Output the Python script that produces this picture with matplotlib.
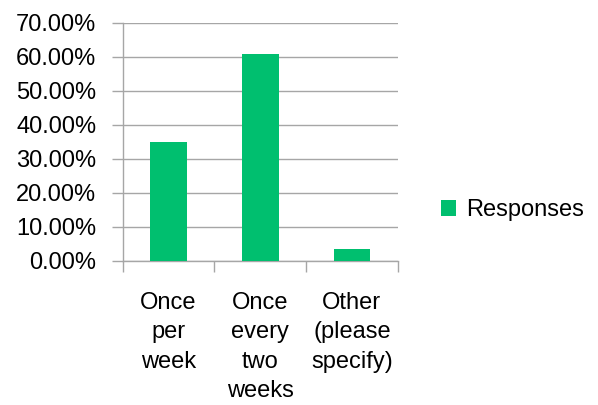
import numpy as np
import matplotlib
matplotlib.use("Agg")
import matplotlib.pyplot as plt

categories = ["Once\nper\nweek", "Once\nevery\ntwo\nweeks", "Other\n(please\nspecify)"]
responses = [35.1, 60.8, 3.4]
y_ticks = [0, 10, 20, 30, 40, 50, 60, 70]
series_name = "Responses"

GREEN = "#00BF6F"
GRAY = "#A6A6A6"

plt.rcParams["font.family"] = ["Liberation Sans", "DejaVu Sans"]

fig = plt.figure(figsize=(5.98, 4.05), dpi=100)
ax = fig.add_axes([0.2052, 0.3556, 0.4599, 0.5883])

x = np.arange(len(categories))
ax.bar(x, responses, width=0.4, color=GREEN, zorder=3, label=series_name)

ax.set_xlim(-0.5, len(categories) - 0.5)
ax.set_ylim(0, 70)
ax.set_yticks(y_ticks)
ax.set_yticklabels([f"{v:.2f}%" for v in y_ticks], fontsize=17)
ax.yaxis.grid(True, color=GRAY, linewidth=1.0, zorder=0)

ax.set_xticks(np.arange(-0.5, len(categories)), labels=[])
ax.set_xticks(x, minor=True)
ax.set_xticklabels(categories, minor=True, fontsize=17, linespacing=1.45,
                   va="top")
ax.tick_params(axis="x", which="major", length=8, width=1.0, color=GRAY)
ax.tick_params(axis="x", which="minor", length=0, pad=22)
ax.tick_params(axis="y", length=8, width=1.0, color=GRAY, pad=11)

for s in ["top", "right"]:
    ax.spines[s].set_visible(False)
for s in ["left", "bottom"]:
    ax.spines[s].set_color(GRAY)
    ax.spines[s].set_linewidth(1.0)

ax.legend(loc="center left", bbox_to_anchor=(1.08, 0.214), frameon=False,
          fontsize=17, handlelength=0.65, handleheight=0.65, handletextpad=0.4)

fig.savefig("out.png", dpi=100)
